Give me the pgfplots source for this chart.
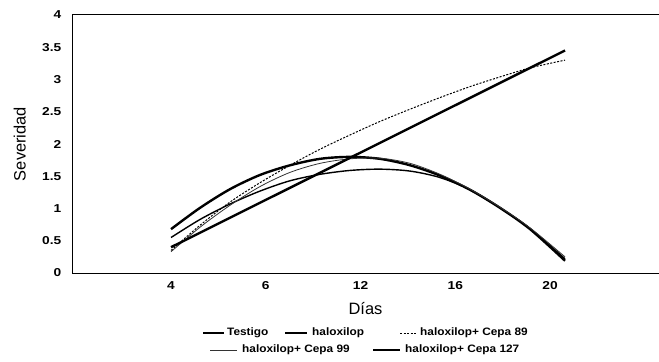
\documentclass[border=0pt]{standalone}
\usepackage{pgfplots}
\pgfplotsset{compat=1.18}
\usepackage{fontspec}
\setmainfont{Liberation Sans}
\newfontfamily\widesans{Liberation Sans}[FakeStretch=1.2]
\newfontfamily\legsans{Liberation Sans}[FakeStretch=1.1]

% Severity curves; x is the position of the sampling day on the axis (1 = day 4, ..., 5 = day 20)
\newcommand{\tlfont}{\widesans\bfseries\fontsize{11.5}{13}\selectfont}
\newcommand{\legfont}{\legsans\bfseries\fontsize{10.8}{12}\selectfont}

\begin{document}
\begin{tikzpicture}[x=1bp,y=1bp]
\useasboundingbox (0,0) rectangle (659,361);
\begin{axis}[
  at={(72bp,88bp)}, anchor=south west,
  width=587bp, height=258bp, scale only axis,
  xmin=-0.045, xmax=6.15, ymin=0, ymax=4,
  axis x line=box, axis y line=left,
  x axis line style={-}, y axis line style={-},
  axis line style={line width=1bp, black},
  xtick={1,2,3,4,5}, xticklabels={4,6,12,16,20},
  ytick={0,0.5,...,4},
  tick style={draw=none},
  /pgf/number format/assume math mode=true,
  ticklabel style={font=\tlfont},
  xticklabel style={yshift=-5bp},
  yticklabel style={xshift=-5bp},
  xlabel={Días}, ylabel={Severidad},
  label style={font=\fontsize{16.5}{19}\selectfont},
  xlabel style={at={(axis description cs:0.5,-0.136)}, anchor=center},
  ylabel style={at={(axis description cs:-0.089,0.5)}, anchor=center},
  clip=false,
]
% Testigo
\addplot[black, line width=2.4bp, smooth] coordinates {
 (1.000,0.68) (1.306,1.01) (1.623,1.30) (1.939,1.52) (2.256,1.67) (2.573,1.77) (2.889,1.80)
 (3.206,1.77) (3.523,1.67) (3.839,1.51) (4.156,1.29) (4.472,1.01) (4.789,0.68) (5.158,0.19)};
% haloxilop
\addplot[black, line width=1.4bp, smooth] coordinates {
 (1.000,0.55) (1.306,0.83) (1.623,1.07) (1.939,1.27) (2.256,1.43) (2.573,1.53) (2.889,1.59)
 (3.206,1.61) (3.523,1.58) (3.839,1.48) (4.156,1.29) (4.472,1.01) (4.789,0.69) (5.158,0.22)};
% haloxilop + Cepa 89
\addplot[black, line width=1bp, dash pattern=on 2bp off 1.5bp, smooth] coordinates {
 (1.000,0.35) (1.306,0.74) (1.623,1.10) (1.939,1.40) (2.256,1.67) (2.573,1.92) (2.889,2.14)
 (3.206,2.35) (3.523,2.54) (3.839,2.72) (4.156,2.89) (4.472,3.04) (4.789,3.18) (5.158,3.30)};
% haloxilop + Cepa 99
\addplot[black!80, line width=0.8bp, smooth] coordinates {
 (1.000,0.33) (1.306,0.71) (1.623,1.05) (1.939,1.34) (2.256,1.56) (2.573,1.70) (2.889,1.77)
 (3.206,1.78) (3.523,1.70) (3.839,1.53) (4.156,1.30) (4.472,1.02) (4.789,0.70) (5.158,0.25)};
% haloxilop + Cepa 127
\addplot[black, line width=2.4bp] coordinates {(1.000,0.40) (5.158,3.45)};
\end{axis}

% legend
\begin{scope}[every node/.style={font=\legfont, anchor=west, inner sep=0pt}]
  \draw[line width=2.4bp] (203,28) -- (224,28);
  \node at (227,28) {Testigo};
  \draw[line width=1.4bp] (285,28) -- (307,28);
  \node at (312,28) {haloxilop};
  \draw[line width=1bp, dash pattern=on 2bp off 1.5bp] (400,28) -- (417,28);
  \node at (420,28) {haloxilop+ Cepa 89};
  \draw[line width=0.8bp, black!80] (210,11) -- (237,11);
  \node at (242,11) {haloxilop+ Cepa 99};
  \draw[line width=2.4bp] (373,11) -- (400,11);
  \node at (405,11) {haloxilop+ Cepa 127};
\end{scope}
\end{tikzpicture}
\end{document}
